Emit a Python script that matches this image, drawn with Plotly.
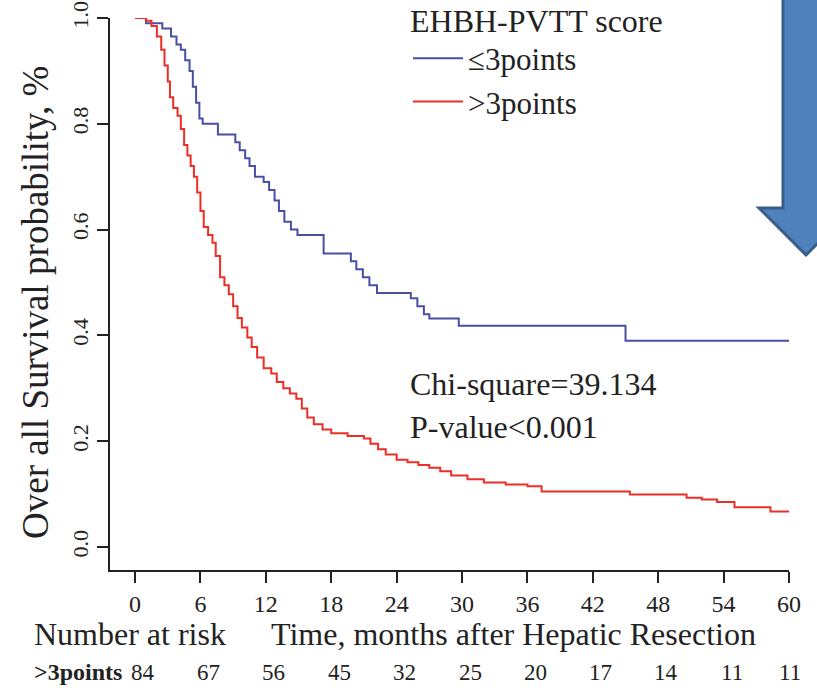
import plotly.graph_objects as go

# ---------------- data ----------------
low_t = [0, 1.0, 2.5, 3.3, 3.8, 4.2, 4.6, 5.0, 5.3, 5.6, 5.9, 6.2, 7.6, 9.2, 9.6, 10.1,
         10.5, 11.0, 11.8, 12.3, 12.8, 13.2, 13.7, 14.3, 14.9, 17.3, 19.8, 20.3, 20.9,
         21.5, 22.2, 25.3, 25.9, 26.5, 27.0, 29.7, 45.0, 60]
low_s = [1.0, 0.99, 0.98, 0.965, 0.95, 0.94, 0.92, 0.90, 0.87, 0.84, 0.81, 0.80, 0.78,
         0.765, 0.75, 0.735, 0.72, 0.70, 0.69, 0.675, 0.655, 0.635, 0.615, 0.60, 0.59,
         0.555, 0.54, 0.525, 0.51, 0.495, 0.48, 0.47, 0.455, 0.44, 0.432, 0.418, 0.39, 0.39]

high_t = [0, 1.0, 1.5, 2.0, 2.4, 2.7, 3.0, 3.2, 3.5, 3.9, 4.2, 4.5, 4.8, 5.1, 5.4, 5.7,
          6.0, 6.3, 6.7, 7.1, 7.4, 7.8, 8.2, 8.6, 9.0, 9.4, 9.8, 10.3, 10.7, 11.2, 11.8,
          12.5, 13.0, 13.6, 14.2, 14.8, 15.3, 15.8, 16.4, 17.2, 18.0, 19.5, 21.0, 21.6,
          22.3, 23.0, 24.0, 25.0, 26.0, 27.0, 28.0, 29.0, 30.5, 32.0, 34.0, 36.0, 37.3,
          45.4, 50.6, 52.0, 53.4, 55.0, 58.3, 60]
high_s = [1.0, 0.995, 0.985, 0.965, 0.94, 0.91, 0.88, 0.85, 0.83, 0.815, 0.79, 0.76,
          0.74, 0.72, 0.70, 0.67, 0.635, 0.605, 0.59, 0.575, 0.55, 0.51, 0.495, 0.478,
          0.455, 0.433, 0.415, 0.396, 0.378, 0.358, 0.338, 0.328, 0.312, 0.300, 0.290,
          0.280, 0.262, 0.245, 0.232, 0.222, 0.215, 0.210, 0.205, 0.195, 0.185, 0.175,
          0.165, 0.160, 0.155, 0.150, 0.143, 0.135, 0.128, 0.122, 0.118, 0.115, 0.105,
          0.099, 0.093, 0.090, 0.085, 0.075, 0.067, 0.067]

x_ticks = [0, 6, 12, 18, 24, 30, 36, 42, 48, 54, 60]
y_ticks = [0.0, 0.2, 0.4, 0.6, 0.8, 1.0]
y_tick_text = ["0.0", "0.2", "0.4", "0.6", "0.8", "1.0"]
risk_times = [0, 6, 12, 18, 24, 30, 36, 42, 48, 54, 60]
risk_high = [84, 67, 56, 45, 32, 25, 20, 17, 14, 11, 11]

series_names = ["≤3points", ">3points"]
legend_title = "EHBH-PVTT score"
chi_text = "Chi-square=39.134"
p_text = "P-value&lt;0.001"
risk_label = ">3points"

# ---------------- layout geometry (pixels) ----------------
W, H = 817, 688
L, R, T, B = 110, 28, 18, 118
PW, PH = W - L - R, H - T - B


def px(x):
    return (x - L) / PW


def py(y):
    return (H - B - y) / PH


FONT = "Liberation Serif, Times New Roman, serif"
BLUE = "#4A4FA6"
RED = "#EC2F26"
INK = "#222222"

fig = go.Figure()
fig.add_trace(go.Scatter(x=low_t, y=low_s, mode="lines", line=dict(color=BLUE, width=2, shape="hv"),
                         name=series_names[0]))
fig.add_trace(go.Scatter(x=high_t, y=high_s, mode="lines", line=dict(color=RED, width=2, shape="hv"),
                         name=series_names[1]))

annotations = [
    dict(text=chi_text, x=px(408), y=py(384), xref="paper", yref="paper", xanchor="left",
         yanchor="middle", showarrow=False, font=dict(family=FONT, size=32, color=INK)),
    dict(text=p_text, x=px(408), y=py(427), xref="paper", yref="paper", xanchor="left",
         yanchor="middle", showarrow=False, font=dict(family=FONT, size=32, color=INK)),
    dict(text="Number at risk", x=px(32), y=py(634), xref="paper", yref="paper", xanchor="left",
         yanchor="middle", showarrow=False, font=dict(family=FONT, size=32, color=INK)),
    dict(text="Time, months after Hepatic Resection", x=px(513), y=py(634), xref="paper",
         yref="paper", xanchor="center", yanchor="middle", showarrow=False,
         font=dict(family=FONT, size=32, color=INK)),
    dict(text="Over all Survival probability, %", x=px(35), y=py(303), xref="paper", yref="paper",
         xanchor="center", yanchor="middle", textangle=-90, showarrow=False,
         font=dict(family=FONT, size=37, color=INK)),
    dict(text="<b>" + risk_label + "</b>", x=px(32), y=py(672), xref="paper", yref="paper",
         xanchor="left", yanchor="middle", showarrow=False,
         font=dict(family=FONT, size=24, color=INK)),
]
for t, n in zip(risk_times, risk_high):
    annotations.append(dict(text=str(n), x=t, y=py(672), xref="x", yref="paper", xanchor="center",
                            yanchor="middle", xshift=8 if t < 60 else 1, showarrow=False,
                            font=dict(family=FONT, size=23, color=INK)))

# decorative blue arrow (top right)
arrow = [(783, -5), (829, -5), (829, 208), (853, 208), (806, 255), (759, 208), (783, 208)]
path = "M " + " L ".join(f"{px(a):.5f},{py(b):.5f}" for a, b in arrow) + " Z"

fig.update_layout(
    width=W, height=H,
    margin=dict(l=L, r=R, t=T, b=B, autoexpand=False),
    paper_bgcolor="white", plot_bgcolor="white",
    font=dict(family=FONT, color=INK),
    showlegend=True,
    legend=dict(x=px(408), y=py(-10), xanchor="left", yanchor="top",
                bgcolor="rgba(0,0,0,0)", itemwidth=50,
                title=dict(text=legend_title, side="top", font=dict(family=FONT, size=32)),
                font=dict(family=FONT, size=31), tracegroupgap=0),
    xaxis=dict(range=[-2.3, 60], tickvals=x_ticks, ticks="outside", ticklen=11, tickwidth=2,
               tickcolor=INK, showline=True, linecolor=INK, linewidth=2, showgrid=False,
               zeroline=False, tickfont=dict(family=FONT, size=24, color=INK),
               ticklabeloverflow="allow"),
    yaxis=dict(range=[-0.0435, 1.0], tickvals=y_ticks, ticktext=y_tick_text, ticks="outside",
               ticklen=11, tickwidth=2, tickcolor=INK, showline=True, linecolor=INK,
               linewidth=2, showgrid=False, zeroline=False, tickangle=-90,
               tickfont=dict(family=FONT, size=22, color=INK), ticklabeloverflow="allow"),
    annotations=annotations,
    shapes=[dict(type="path", path=path, xref="paper", yref="paper", fillcolor="#4F81BD",
                 line=dict(color="#385D8A", width=3), layer="above")],
)

fig.write_html("out.html", config={"displayModeBar": False},
               post_script="document.body.style.margin='0';")
